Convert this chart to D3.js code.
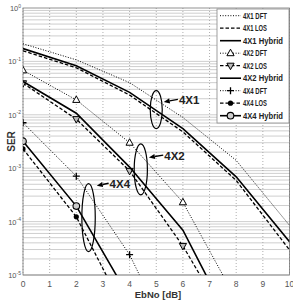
<!DOCTYPE html>
<html>
<head>
<meta charset="utf-8">
<script src="https://cdn.jsdelivr.net/npm/d3@7"></script>
<style>
  body { margin: 0; background: #fff; }
  svg { display: block; font-family: "Liberation Sans", Arial, sans-serif; }
</style>
</head>
<body>
<svg id="chart" width="293" height="307"></svg>
<script>
// EbNo points (dB)
var ebno = [0, 2, 4, 6, 8, 10];

// SER values
var ser4x1Dft    = [0.214, 0.107, 0.040, 0.0089, 0.0014, 8.5e-5];
var ser4x1Los    = [0.158, 0.076, 0.0234, 0.0048, 5.9e-4, 2.95e-5];
var ser4x1Hybrid = [0.174, 0.083, 0.0263, 0.0055, 6.9e-4, 4.2e-5];
var ser4x2Dft    = [0.068, 0.019, 0.0030, 2.3e-4, 3.5e-6];
var ser4x2Los    = [0.039, 0.0083, 8.9e-4, 3.5e-5, 7e-7];
var ser4x2Hybrid = [0.042, 0.0107, 0.00105, 6.9e-5, 8e-7];
var ser4x4Dft    = [0.0071, 7.1e-4, 2.4e-5, 2.1e-7];
var ser4x4Los    = [0.0023, 1.23e-4, 1.4e-6];
var ser4x4Hybrid = [0.0032, 1.95e-4, 3.7e-6];

var seriesNames = ["4X1 DFT", "4X1 LOS", "4X1 Hybrid", "4X2 DFT", "4X2 LOS", "4X2 Hybrid", "4X4 DFT", "4X4 LOS", "4X4 Hybrid"];
var xTicks = [0, 1, 2, 3, 4, 5, 6, 7, 8, 9, 10];
var yExponents = [0, -1, -2, -3, -4, -5];

// group ellipses (centre in data units) and label anchors
var groupLabels = ["4X1", "4X2", "4X4"];
var groupCenterX = [5.0, 4.42, 2.46];
var groupCenterY = [0.0125, 9.5e-4, 1.19e-4];
var groupLabelX = [5.85, 5.3, 3.25];
var groupLabelY = [0.016, 1.45e-3, 4.3e-4];

var styles = [
    {dash: "1,1.6", w: 1, marker: null},
    {dash: "3.5,2", w: 1.3, marker: null},
    {dash: null, w: 1.6, marker: null},
    {dash: "1,1.6", w: 1, marker: "triUp"},
    {dash: "3.5,2", w: 1.3, marker: "triDown"},
    {dash: null, w: 1.6, marker: null},
    {dash: "1,1.6", w: 1, marker: "plus"},
    {dash: "3.5,2", w: 1.3, marker: "dot"},
    {dash: null, w: 1.6, marker: "circle"}
];
var ellipseSize = [[6, 19], [6.6, 25.5], [6.7, 34]];
var allSer = [ser4x1Dft, ser4x1Los, ser4x1Hybrid, ser4x2Dft, ser4x2Los, ser4x2Hybrid, ser4x4Dft, ser4x4Los, ser4x4Hybrid];

var svg = d3.select("#chart");
var margin = {top: 8, left: 23, right: 3.5, bottom: 32};
var width = 293 - margin.left - margin.right;
var height = 307 - margin.top - margin.bottom;

var x = d3.scaleLinear().domain([0, 10]).range([0, width]);
var y = d3.scaleLog().domain([1e-5, 1]).range([height, 0]);

var g = svg.append("g").attr("transform", "translate(" + margin.left + "," + margin.top + ")");

g.append("defs").append("clipPath").attr("id", "clip")
    .append("rect").attr("width", width).attr("height", height);

// minor horizontal grid
var minor = [];
yExponents.forEach(function (e) {
    if (e === 0) return;
    for (var m = 1; m < 10; m++) minor.push(m * Math.pow(10, e));
});
g.selectAll(".hgrid").data(minor).enter().append("line")
    .attr("class", "hgrid")
    .attr("x1", 0).attr("x2", width)
    .attr("y1", function (d) { return y(d); })
    .attr("y2", function (d) { return y(d); })
    .attr("stroke", "#c8c8c8").attr("stroke-width", 0.9);

g.selectAll(".vgrid").data(xTicks).enter().append("line")
    .attr("class", "vgrid")
    .attr("x1", function (d) { return x(d); })
    .attr("x2", function (d) { return x(d); })
    .attr("y1", 0).attr("y2", height)
    .attr("stroke", "#9a9a9a").attr("stroke-width", 0.8).attr("stroke-dasharray", "1,2");

g.append("rect").attr("width", width).attr("height", height)
    .attr("fill", "none").attr("stroke", "#777").attr("stroke-width", 0.8);

// x tick labels
g.selectAll(".xt").data(xTicks).enter().append("text")
    .attr("x", function (d) { return x(d); })
    .attr("y", height + 12)
    .attr("text-anchor", "middle")
    .attr("font-size", 8.5).attr("fill", "#555")
    .text(function (d) { return d; });

// y tick labels 10^e
var yt = g.selectAll(".yt").data(yExponents).enter().append("text")
    .attr("x", -2).attr("y", function (d) { return y(Math.pow(10, d)) + 3; })
    .attr("text-anchor", "end")
    .attr("font-size", 7.5).attr("fill", "#555");
yt.append("tspan").text("10");
yt.append("tspan").attr("font-size", 5).attr("dy", -3.5).text(function (d) { return d; });

svg.append("text")
    .attr("x", 158).attr("y", 298)
    .attr("text-anchor", "middle")
    .attr("font-size", 9.5).attr("font-weight", "bold").attr("fill", "#333")
    .text("EbNo [dB]");

svg.append("text")
    .attr("transform", "translate(15," + (margin.top + height / 2) + ") rotate(-90)")
    .attr("text-anchor", "middle")
    .attr("font-size", 10).attr("font-weight", "bold").attr("fill", "#333")
    .text("SER");

// curves
var line = d3.line()
    .x(function (d, i) { return x(ebno[i]); })
    .y(function (d) { return y(d); });

var plot = g.append("g").attr("clip-path", "url(#clip)");

function drawMarker(sel, type, px, py) {
    if (type === "triUp") {
        sel.append("path").attr("d", "M" + px + "," + (py - 4) + "L" + (px + 3.6) + "," + (py + 2.5) + "L" + (px - 3.6) + "," + (py + 2.5) + "Z")
            .attr("fill", "#fff").attr("stroke", "#000").attr("stroke-width", 1);
    } else if (type === "triDown") {
        sel.append("path").attr("d", "M" + px + "," + (py + 4) + "L" + (px + 3.6) + "," + (py - 2.5) + "L" + (px - 3.6) + "," + (py - 2.5) + "Z")
            .attr("fill", "#bbb").attr("stroke", "#000").attr("stroke-width", 1);
    } else if (type === "plus") {
        sel.append("path").attr("d", "M" + (px - 3.5) + "," + py + "H" + (px + 3.5) + "M" + px + "," + (py - 3.5) + "V" + (py + 3.5))
            .attr("stroke", "#000").attr("stroke-width", 1.3);
    } else if (type === "dot") {
        sel.append("circle").attr("cx", px).attr("cy", py).attr("r", 2.6).attr("fill", "#000");
    } else if (type === "circle") {
        sel.append("circle").attr("cx", px).attr("cy", py).attr("r", 3.3)
            .attr("fill", "#ccc").attr("stroke", "#000").attr("stroke-width", 1.1);
    }
}

allSer.forEach(function (vals, k) {
    var st = styles[k];
    plot.append("path").datum(vals)
        .attr("d", line)
        .attr("fill", "none").attr("stroke", "#000")
        .attr("stroke-width", st.w)
        .attr("stroke-dasharray", st.dash);
    if (st.marker) {
        vals.forEach(function (v, i) {
            if (v >= 1e-5) drawMarker(plot, st.marker, x(ebno[i]), y(v));
        });
    }
});

// group annotations: ellipse + arrow + label
groupLabels.forEach(function (label, k) {
    var cx = x(groupCenterX[k]), cy = y(groupCenterY[k]);
    var rx = ellipseSize[k][0], ry = ellipseSize[k][1];
    g.append("ellipse").attr("cx", cx).attr("cy", cy).attr("rx", rx).attr("ry", ry)
        .attr("fill", "none").attr("stroke", "#000").attr("stroke-width", 1.2);
    var tx = x(groupLabelX[k]), ty = y(groupLabelY[k]);
    var x0 = tx - 1, y0 = ty - 4.5;
    var x1 = cx + rx + 1.5, y1 = y0 + 2.5;
    var dx = x1 - x0, dy = y1 - y0, len = Math.sqrt(dx * dx + dy * dy);
    var ux = dx / len, uy = dy / len;
    var bx = x1 - ux * 6, by = y1 - uy * 6;
    g.append("line").attr("x1", x0).attr("y1", y0).attr("x2", bx).attr("y2", by)
        .attr("stroke", "#000").attr("stroke-width", 1.4);
    g.append("path")
        .attr("d", "M" + x1 + "," + y1 + "L" + (bx - uy * 2.6) + "," + (by + ux * 2.6) + "L" + (bx + uy * 2.6) + "," + (by - ux * 2.6) + "Z")
        .attr("fill", "#000");
    g.append("text").attr("x", tx).attr("y", ty)
        .attr("font-size", 11.5).attr("font-weight", "bold").attr("fill", "#222")
        .text(label);
});

// legend
var lg = svg.append("g").attr("transform", "translate(217,9)");
lg.append("rect").attr("width", 72).attr("height", 114)
    .attr("fill", "#fff").attr("stroke", "#888").attr("stroke-width", 0.8);
seriesNames.forEach(function (name, k) {
    var st = styles[k];
    var ly = 6.7 + k * 12.5;
    lg.append("line").attr("x1", 3).attr("x2", 24).attr("y1", ly).attr("y2", ly)
        .attr("stroke", "#000").attr("stroke-width", st.w).attr("stroke-dasharray", st.dash);
    if (st.marker) drawMarker(lg, st.marker, 13.5, ly);
    lg.append("text").attr("x", 26).attr("y", ly + 3)
        .attr("font-family", "'Liberation Sans Narrow', 'Liberation Sans', Arial, sans-serif")
        .attr("font-size", 8.5).attr("font-weight", "bold").attr("fill", "#222")
        .attr("textLength", name.indexOf("Hybrid") >= 0 ? 40 : 24)
        .attr("lengthAdjust", "spacingAndGlyphs")
        .text(name);
});
</script>
</body>
</html>
